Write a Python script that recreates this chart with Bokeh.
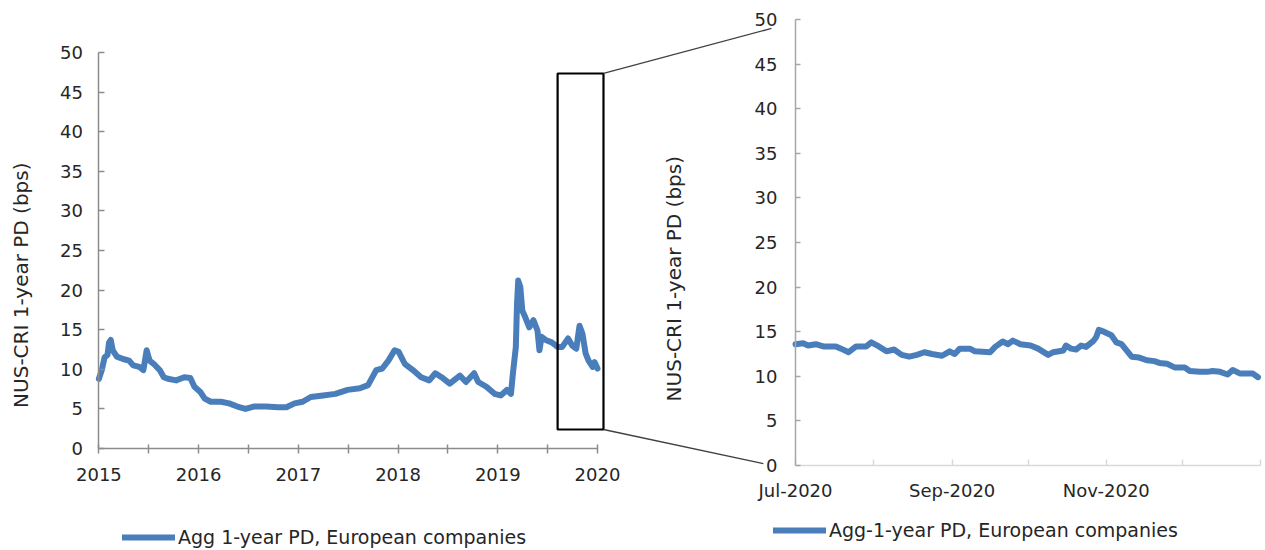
import pandas as pd
from bokeh.plotting import figure
from bokeh.models import (LinearAxis, DatetimeAxis, Range1d, FixedTicker,
                          DatetimeTickFormatter, Legend, LegendItem)
from bokeh.embed import file_html
from bokeh.resources import INLINE

# ---------------- data ----------------
left_years = [2015.000, 2015.029, 2015.057, 2015.086, 2015.102, 2015.119, 2015.139, 2015.180, 2015.242, 2015.303,
              2015.344, 2015.405, 2015.446, 2015.479, 2015.508, 2015.549, 2015.610, 2015.651, 2015.692, 2015.774,
              2015.856, 2015.917, 2015.958, 2016.020, 2016.061, 2016.122, 2016.224, 2016.306, 2016.388, 2016.470,
              2016.552, 2016.675, 2016.798, 2016.880, 2016.962, 2017.043, 2017.125, 2017.248, 2017.371, 2017.494,
              2017.617, 2017.699, 2017.781, 2017.842, 2017.903, 2017.965, 2018.006, 2018.067, 2018.149, 2018.231,
              2018.313, 2018.374, 2018.436, 2018.518, 2018.620, 2018.681, 2018.763, 2018.804, 2018.886, 2018.968,
              2019.029, 2019.091, 2019.132, 2019.152, 2019.181, 2019.193, 2019.205, 2019.226, 2019.246, 2019.275,
              2019.316, 2019.357, 2019.398, 2019.418, 2019.439, 2019.480, 2019.541, 2019.603, 2019.644, 2019.705,
              2019.746, 2019.787, 2019.820, 2019.849, 2019.881, 2019.910, 2019.951, 2019.971, 2020.000]
left_pd = [8.8, 9.9, 11.5, 11.8, 13.4, 13.7, 12.4, 11.6, 11.3, 11.1,
           10.5, 10.3, 9.9, 12.4, 11.1, 10.7, 9.9, 9.0, 8.8, 8.6,
           9.0, 8.9, 7.8, 7.1, 6.3, 5.9, 5.9, 5.7, 5.3, 5.0,
           5.3, 5.3, 5.2, 5.2, 5.7, 5.9, 6.5, 6.7, 6.9, 7.4,
           7.6, 8.0, 9.9, 10.1, 11.1, 12.4, 12.2, 10.7, 9.9, 9.0,
           8.6, 9.5, 9.0, 8.2, 9.2, 8.4, 9.5, 8.4, 7.8, 6.9,
           6.7, 7.4, 6.9, 9.5, 12.8, 18.3, 21.2, 20.4, 17.4, 16.6,
           15.3, 16.2, 14.9, 12.4, 14.1, 13.7, 13.4, 12.8, 12.8, 13.9,
           13.0, 12.6, 15.5, 14.5, 12.0, 11.1, 10.3, 10.9, 10.1]

right_dates = ["2020-07-01", "2020-07-04", "2020-07-06", "2020-07-09", "2020-07-12", "2020-07-17",
               "2020-07-19", "2020-07-22", "2020-07-25", "2020-07-29", "2020-07-31", "2020-08-03",
               "2020-08-06", "2020-08-09", "2020-08-12", "2020-08-15", "2020-08-18", "2020-08-21",
               "2020-08-24", "2020-08-28", "2020-08-31", "2020-09-02", "2020-09-04", "2020-09-08",
               "2020-09-10", "2020-09-16", "2020-09-18", "2020-09-21", "2020-09-23", "2020-09-25",
               "2020-09-28", "2020-10-02", "2020-10-05", "2020-10-09", "2020-10-11", "2020-10-15",
               "2020-10-16", "2020-10-18", "2020-10-20", "2020-10-22", "2020-10-24", "2020-10-27",
               "2020-10-28", "2020-10-29", "2020-10-31", "2020-11-03", "2020-11-05", "2020-11-07",
               "2020-11-09", "2020-11-11", "2020-11-14", "2020-11-17", "2020-11-20", "2020-11-22",
               "2020-11-25", "2020-11-28", "2020-12-02", "2020-12-04", "2020-12-08", "2020-12-11",
               "2020-12-13", "2020-12-16", "2020-12-19", "2020-12-21", "2020-12-24", "2020-12-28",
               "2020-12-29", "2020-12-31"]
right_pd = [13.6, 13.7, 13.45, 13.6, 13.35, 13.35,
            13.1, 12.7, 13.35, 13.35, 13.8, 13.35,
            12.8, 13.0, 12.4, 12.2, 12.4, 12.7,
            12.5, 12.3, 12.8, 12.5, 13.1, 13.1,
            12.8, 12.7, 13.3, 13.9, 13.6, 14.0,
            13.6, 13.45, 13.1, 12.4, 12.7, 12.9,
            13.45, 13.1, 13.0, 13.45, 13.3, 14.0,
            14.4, 15.2, 15.0, 14.6, 13.8, 13.6,
            12.9, 12.2, 12.1, 11.8, 11.7, 11.5,
            11.4, 11.0, 11.0, 10.6, 10.5, 10.5,
            10.6, 10.5, 10.2, 10.7, 10.3, 10.3,
            10.3, 9.9]

y_ticks = [0, 5, 10, 15, 20, 25, 30, 35, 40, 45, 50]
left_major_years = [2015, 2016, 2017, 2018, 2019, 2020]
left_minor_years = [2015.5, 2016.5, 2017.5, 2018.5, 2019.5]
right_major_months = ["2020-07-01", "2020-09-01", "2020-11-01"]
right_minor_months = ["2020-08-01", "2020-10-01", "2020-12-01", "2021-01-01"]
right_span = ("2020-07-01", "2021-01-01")
zoom_box_years = (2019.60, 2020.06)
zoom_box_pd = (2.4, 47.35)
# connector targets (right-panel coordinates: days relative to 1 Jul 2020, PD)
conn_top_target = (-9.5, 49.0)
conn_bot_target = (-12.7, 0.2)

label_left = "Agg 1-year PD, European companies"
label_right = "Agg-1-year PD, European companies"
y_title = "NUS-CRI  1-year PD (bps)"

BLUE = "#4a7ebb"
TXT = "#262626"
FONT = "DejaVu Sans"


def ms(s):
    return pd.Timestamp(s).value / 1e6


DAY = 86400000.0

# ---------------- layout (page px) ----------------
W, H = 1265, 550
FL, FR, FT, FB = 0.0, float(W), 0.0, float(H)
LX0, LX1 = 98.4, 597.0      # 2015 / 2020
LY0, LY50 = 448.0, 52.0     # 0 / 50 (left)
RX0, RX1 = 795.0, 1260.0    # Jul-2020 / Jan-2021
RY0, RY50 = 465.0, 19.0     # 0 / 50 (right)

ppx = (LX1 - LX0) / 5.0
ppy = (LY0 - LY50) / 50.0
lx_start = 2015 - (LX0 - FL) / ppx
lx_end = 2015 + (FR - LX0) / ppx
ly_start = -(FB - LY0) / ppy
ly_end = 50 + (LY50 - FT) / ppy

t0, t1 = ms(right_span[0]), ms(right_span[1])
mspx = (t1 - t0) / (RX1 - RX0)
rx_start = t0 - (RX0 - FL) * mspx
rx_end = t1 + (FR - RX1) * mspx
rppy = (RY0 - RY50) / 50.0
ry_start = -(FB - RY0) / rppy
ry_end = 50 + (RY50 - FT) / rppy


def right_to_left(days, val):
    px = RX0 + days * DAY / mspx
    py = RY0 - val * rppy
    return 2015 + (px - LX0) / ppx, (LY0 - py) / ppy


p = figure(width=W, height=H, x_range=Range1d(lx_start, lx_end), y_range=Range1d(ly_start, ly_end),
           x_axis_location=None, y_axis_location=None, toolbar_location=None, output_backend="svg",
           min_border_left=0, min_border_right=0, min_border_top=0, min_border_bottom=0,
           outline_line_color=None, background_fill_color="white", border_fill_color="white")
p.extra_x_ranges = {"rx": Range1d(rx_start, rx_end)}
p.extra_y_ranges = {"ry": Range1d(ry_start, ry_end)}
p.grid.visible = False


def style_axis(ax, color):
    ax.axis_line_color = color
    ax.axis_line_width = 1.5
    ax.major_tick_line_color = color
    ax.minor_tick_line_color = color
    ax.major_tick_line_width = 1.5
    ax.minor_tick_line_width = 1.5
    ax.major_label_text_font = FONT
    ax.major_label_text_font_size = "18px"
    ax.major_label_text_color = TXT
    ax.axis_label_text_font = FONT
    ax.axis_label_text_font_size = "20px"
    ax.axis_label_text_font_style = "normal"
    ax.axis_label_text_color = TXT


def title_axis(loc, bounds, standoff, **kw):
    # axis carrying only the (vertically offset) title
    ax = LinearAxis(fixed_location=loc, bounds=bounds, ticker=FixedTicker(ticks=[]),
                    axis_label=y_title, **kw)
    style_axis(ax, None)
    ax.axis_line_color = None
    ax.major_tick_line_color = None
    ax.minor_tick_line_color = None
    ax.major_label_standoff = 0
    ax.axis_label_standoff = standoff
    return ax


# left panel y axis
ly = LinearAxis(fixed_location=2015, bounds=(0, 50), ticker=FixedTicker(ticks=y_ticks))
style_axis(ly, "#8c8c8c")
ly.major_tick_in, ly.major_tick_out = 6, 0
ly.minor_tick_in, ly.minor_tick_out = 0, 0
ly.major_label_standoff = 16
p.add_layout(ly, "left")
p.add_layout(title_axis(2015, (-8, 50), 66), "left")

# left panel x axis
lxa = LinearAxis(fixed_location=0, bounds=(2015, 2020),
                 ticker=FixedTicker(ticks=left_major_years, minor_ticks=left_minor_years))
style_axis(lxa, "#8c8c8c")
lxa.major_tick_in, lxa.major_tick_out = 4, 5
lxa.minor_tick_in, lxa.minor_tick_out = 4, 5
lxa.major_label_standoff = 14
p.add_layout(lxa, "below")

# right panel x axis
fmt = "%b-%Y"
rxa = DatetimeAxis(x_range_name="rx", y_range_name="ry", fixed_location=0, bounds=(t0, t1),
                   ticker=FixedTicker(ticks=[ms(m) for m in right_major_months],
                                      minor_ticks=[ms(m) for m in right_minor_months]),
                   formatter=DatetimeTickFormatter(days=fmt, months=fmt, years=fmt, hours=fmt,
                                                   minutes=fmt, seconds=fmt, milliseconds=fmt,
                                                   microseconds=fmt, hourmin=fmt, minsec=fmt))
style_axis(rxa, "#d9d9d9")
rxa.major_tick_in, rxa.major_tick_out = 6, 0
rxa.minor_tick_in, rxa.minor_tick_out = 6, 0
rxa.major_label_standoff = 14
p.add_layout(rxa, "below")

# right panel y axis
rya = LinearAxis(x_range_name="rx", y_range_name="ry", fixed_location=t0, bounds=(0, 50),
                 ticker=FixedTicker(ticks=y_ticks))
style_axis(rya, "#a6a6a6")
rya.major_tick_in, rya.major_tick_out = 5, 0
rya.minor_tick_in, rya.minor_tick_out = 0, 0
rya.major_label_standoff = 18
p.add_layout(rya, "left")
p.add_layout(title_axis(t0, (-7.4, 50), 110, x_range_name="rx", y_range_name="ry"), "left")

# series
l1 = p.line(left_years, left_pd, line_width=6, color=BLUE, line_join="round", line_cap="round")
l2 = p.line([pd.Timestamp(d) for d in right_dates], right_pd, x_range_name="rx", y_range_name="ry",
            line_width=6, color=BLUE, line_join="round", line_cap="round")

# zoom box and connectors
p.quad(left=[zoom_box_years[0]], right=[zoom_box_years[1]], bottom=[zoom_box_pd[0]], top=[zoom_box_pd[1]],
       fill_color=None, line_color="black", line_width=2.2)
tx, tyv = right_to_left(*conn_top_target)
bx, byv = right_to_left(*conn_bot_target)
p.segment(x0=[zoom_box_years[1], zoom_box_years[1]], y0=[zoom_box_pd[1], zoom_box_pd[0]],
          x1=[tx, bx], y1=[tyv, byv], line_color="#404040", line_width=1.3)


def make_legend(label, r, loc):
    lg = Legend(items=[LegendItem(label=label, renderers=[r])], location=loc,
                padding=0, margin=0, spacing=0, border_line_color=None, background_fill_alpha=0,
                label_text_font=FONT, label_text_font_size="19px", label_text_color=TXT,
                glyph_width=53, glyph_height=20, label_standoff=3, label_height=20)
    return lg


p.add_layout(make_legend(label_left, l1, (122, 2)), "center")
p.add_layout(make_legend(label_right, l2, (773, 9)), "center")

open("out.html", "w").write(file_html(p, INLINE))
